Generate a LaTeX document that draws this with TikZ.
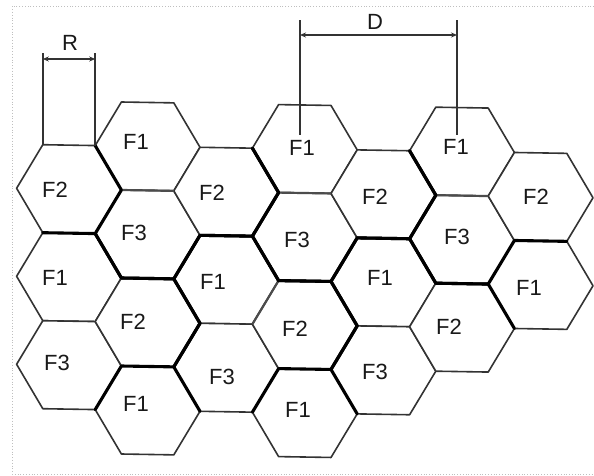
\documentclass[tikz,border=0pt]{standalone}
\usepackage{fontspec}
\setmainfont{Liberation Sans}
\usetikzlibrary{arrows.meta,calc}
\newcommand\hexcell[3]{%
  \coordinate (#1) at (#2,#3);
  \coordinate (#1-e)  at ($(#1)+(52.4,0)$);
  \coordinate (#1-ne) at ($(#1)+(26.2,-44)$);
  \coordinate (#1-nw) at ($(#1)+(-26.2,-44)$);
  \coordinate (#1-w)  at ($(#1)+(-52.4,0)$);
  \coordinate (#1-sw) at ($(#1)+(-26.2,44)$);
  \coordinate (#1-se) at ($(#1)+(26.2,44)$);
  \filldraw[thinedge] (#1-e) -- (#1-ne) -- (#1-nw) -- (#1-w) -- (#1-sw) -- (#1-se) -- cycle;
}
\begin{document}
\begin{tikzpicture}[x=1pt,y=-1pt,
  thinedge/.style={draw=black!80, fill=white, line width=1.6pt, line join=round},
  thickedge/.style={draw=black, line width=3.1pt, line join=round, line cap=round},
  midedge/.style={draw=black!70, line width=2.2pt},
  lab/.style={inner sep=0pt, font=\fontsize{22}{26}\selectfont, text=black!90},
  dimline/.style={draw=black!80, line width=1.6pt},
  dimarrow/.style={draw=black!80, line width=1.6pt, {Stealth[length=6pt,width=5pt]}-{Stealth[length=6pt,width=5pt]}},
  frame/.style={draw=black!25, dotted, line width=0.8pt}]

\useasboundingbox (0,0) rectangle (594,476);
\fill[white] (0,0) rectangle (594,476);
\draw[frame] (594,6) -- (12,6) -- (12,474) -- (594,474);

\begin{scope}[yslant=-0.0165]
  % column 0
  \hexcell{A0}{69}{188}\hexcell{A1}{69}{276}\hexcell{A2}{69}{364}
  % column 1
  \hexcell{B0}{147.6}{144}\hexcell{B1}{147.6}{232}\hexcell{B2}{147.6}{320}\hexcell{B3}{147.6}{408}
  % column 2
  \hexcell{C0}{226.2}{188}\hexcell{C1}{226.2}{276}\hexcell{C2}{226.2}{364}
  % column 3
  \hexcell{D0}{304.8}{144}\hexcell{D1}{304.8}{232}\hexcell{D2}{304.8}{320}\hexcell{D3}{304.8}{408}
  % column 4
  \hexcell{E0}{383.4}{188}\hexcell{E1}{383.4}{276}\hexcell{E2}{383.4}{364}
  % column 5
  \hexcell{G0}{462}{144}\hexcell{G1}{462}{232}\hexcell{G2}{462}{320}
  % column 6
  \hexcell{H0}{540.6}{188}\hexcell{H1}{540.6}{276}
\end{scope}

% medium internal edges
\draw[midedge] (B0-sw) -- (B0-se);
\draw[midedge] (D0-sw) -- (D0-se);
\draw[midedge] (G0-sw) -- (G0-se);
\draw[midedge] (C1-e) -- (C1-se);

% cluster boundaries
\draw[thickedge] (B0-w) -- (B0-sw) -- (B1-w) -- (B1-sw) -- (B1-se) -- (B1-e) -- (C0-se) -- (C0-e) -- (C0-ne);
\draw[thickedge] (A1-nw) -- (A1-ne) -- (A1-e) -- (B2-ne) -- (B2-e) -- (B2-se) -- (B2-sw) -- (A2-se);
\draw[thickedge] (D0-w) -- (D0-sw) -- (D1-w) -- (D1-sw) -- (D1-se) -- (D1-e) -- (E0-se) -- (E0-e) -- (E0-ne);
\draw[thickedge] (C2-sw) -- (C2-w) -- (C1-sw) -- (C1-w) -- (C1-nw) -- (C1-ne) -- (C1-e) -- (D2-ne) -- (D2-e) -- (D2-se) -- (D2-sw) -- (C2-se);
\draw[thickedge] (G0-w) -- (G0-sw) -- (G1-w) -- (G1-sw) -- (G1-se) -- (G1-e) -- (H0-se);
\draw[thickedge] (E2-sw) -- (E2-w) -- (E1-sw) -- (E1-w) -- (E1-nw) -- (E1-ne) -- (E1-e) -- (G2-ne) -- (G2-e);

% labels
\node[lab] (lA0) at (55,190) {F2};
\node[lab] (lA1) at (55,278) {F1};
\node[lab] (lA2) at (57,363) {F3};
\node[lab] (lB0) at (136,142) {F1};
\node[lab] (lB1) at (134,233) {F3};
\node[lab] (lB2) at (133,322) {F2};
\node[lab] (lB3) at (136,404) {F1};
\node[lab] (lC0) at (212,193) {F2};
\node[lab] (lC1) at (213,282) {F1};
\node[lab] (lC2) at (222,377) {F3};
\node[lab] (lD0) at (302,148) {F1};
\node[lab] (lD1) at (297,240) {F3};
\node[lab] (lD2) at (295,329) {F2};
\node[lab] (lD3) at (298,410) {F1};
\node[lab] (lE0) at (375,197) {F2};
\node[lab] (lE1) at (380,278) {F1};
\node[lab] (lE2) at (375,372) {F3};
\node[lab] (lG0) at (456,147) {F1};
\node[lab] (lG1) at (457,237) {F3};
\node[lab] (lG2) at (449,327) {F2};
\node[lab] (lH0) at (536,197) {F2};
\node[lab] (lH1) at (529,288) {F1};

% dimension R
\coordinate (rtop) at (0,53);
\coordinate (rarr) at (0,59);
\draw[dimline] (A0-nw) -- (A0-nw |- rtop);
\draw[dimline] (A0-ne) -- (A0-ne |- rtop);
\draw[dimarrow] (A0-nw |- rarr) -- (A0-ne |- rarr);
\node[lab] (Rlab) at (70,43) {R};

% dimension D
\coordinate (DL) at (300,135);
\coordinate (DR) at (457,135);
\coordinate (dtop) at (0,20);
\coordinate (darr) at (0,35);
\draw[dimline] (DL) -- (DL |- dtop);
\draw[dimline] (DR) -- (DR |- dtop);
\draw[dimarrow] (DL |- darr) -- (DR |- darr);
\node[lab] (Dlab) at (375,22) {D};
\end{tikzpicture}
\end{document}
